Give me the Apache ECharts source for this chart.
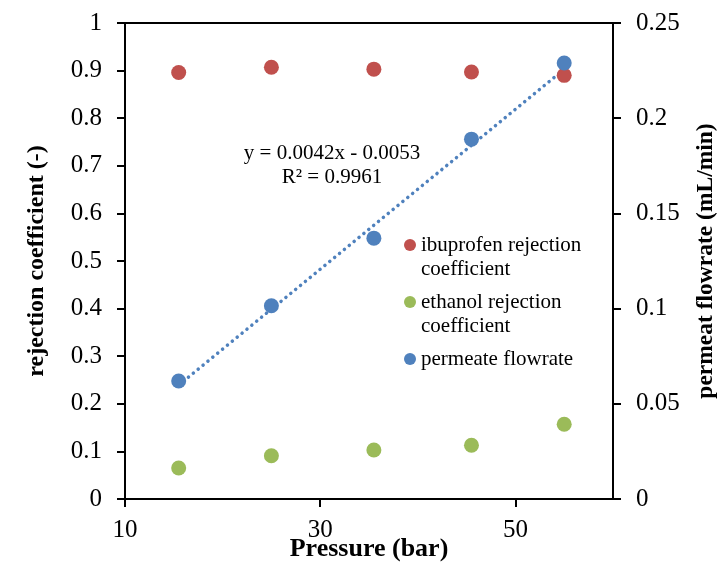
<!DOCTYPE html>
<html>
<head>
<meta charset="utf-8">
<script src="https://cdn.jsdelivr.net/npm/echarts@6/dist/echarts.min.js"></script>
<style>
html,body{margin:0;padding:0;background:#fff;}
#c{width:721px;height:565px;}
</style>
</head>
<body>
<div id="c"></div>
<script>
// ---- data ----
const pressure = [15.5, 25, 35.5, 45.5, 55];
const ibuprofenRejection = [0.896, 0.907, 0.903, 0.897, 0.890];
const ethanolRejection = [0.065, 0.091, 0.103, 0.113, 0.157];
const permeateFlowrate = [0.062, 0.1015, 0.137, 0.189, 0.229];
const trendSlope = 0.0042;
const trendIntercept = -0.0053;
const trendR2 = 0.9961;
const xTicks = [10, 30, 50];
const seriesNames = ['ibuprofen rejection coefficient', 'ethanol rejection coefficient', 'permeate flowrate'];
const legendLabels = ['ibuprofen rejection\ncoefficient', 'ethanol rejection\ncoefficient', 'permeate flowrate'];

const FONT = '"Liberation Serif", "Times New Roman", serif';
const colors = ['#C0504D', '#9BBB59', '#4F81BD'];

function pairs(xs, ys) { return xs.map((x, i) => [x, ys[i]]); }
const xMin = Math.min(...pressure), xMax = Math.max(...pressure);
const trendData = [[xMin, trendSlope * xMin + trendIntercept], [xMax, trendSlope * xMax + trendIntercept]];

// multi-line legend labels: a blank first line keeps the marker level with the first text line
function legendText(s) { return s.indexOf('\n') >= 0 ? ' \n' + s : s; }

const chart = echarts.init(document.getElementById('c'), null, {renderer: 'canvas'});
const legendTops = [209, 266, 347];
const legendLineH = 24;
const option = {
  animation: false,
  backgroundColor: '#fff',
  grid: {left: 125, right: 108, top: 23, bottom: 66, containLabel: false, outerBoundsMode: 'none',
    show: true, borderColor: '#000', borderWidth: 2, backgroundColor: 'transparent'},
  legend: seriesNames.map((n, i) => ({
    data: [n],
    left: 404, top: legendTops[i], padding: 0,
    icon: 'circle', itemWidth: 12, itemHeight: 12, itemGap: 0,
    selectedMode: false,
    formatter: () => legendText(legendLabels[i]),
    textStyle: {fontFamily: FONT, fontSize: 21, color: '#000', lineHeight: legendLineH}
  })),
  xAxis: {
    type: 'value', min: 10, max: 60, interval: 20,
    name: 'Pressure (bar)', nameLocation: 'middle', nameGap: 37, nameMoveOverlap: false,
    nameTextStyle: {fontFamily: FONT, fontSize: 26, fontWeight: 'bold', color: '#000'},
    axisLine: {show: true, onZero: false, lineStyle: {color: '#000', width: 2}},
    axisTick: {show: true, length: 8, lineStyle: {color: '#000', width: 2}, customValues: xTicks},
    axisLabel: {fontFamily: FONT, fontSize: 25, color: '#000', margin: 19, customValues: xTicks},
    splitLine: {show: false}
  },
  yAxis: [{
    type: 'value', min: 0, max: 1, interval: 0.1, position: 'left',
    name: 'rejection coefficient (-)', nameLocation: 'middle', nameGap: 76, nameRotate: 90, nameMoveOverlap: false,
    nameTextStyle: {fontFamily: FONT, fontSize: 24, fontWeight: 'bold', color: '#000'},
    axisLine: {show: true, lineStyle: {color: '#000', width: 2}},
    axisTick: {show: true, length: 8, lineStyle: {color: '#000', width: 2}},
    axisLabel: {fontFamily: FONT, fontSize: 25, color: '#000', margin: 23},
    splitLine: {show: false}
  }, {
    type: 'value', min: 0, max: 0.25, interval: 0.05, position: 'right',
    name: 'permeat flowrate (mL/min)', nameLocation: 'middle', nameGap: 81, nameRotate: 90, nameMoveOverlap: false,
    nameTextStyle: {fontFamily: FONT, fontSize: 23.5, fontWeight: 'bold', color: '#000'},
    axisLine: {show: true, lineStyle: {color: '#000', width: 2}},
    axisTick: {show: true, length: 8, lineStyle: {color: '#000', width: 2}},
    axisLabel: {fontFamily: FONT, fontSize: 25, color: '#000', margin: 23},
    splitLine: {show: false}
  }],
  series: [
    {name: seriesNames[0], type: 'scatter', yAxisIndex: 0, data: pairs(pressure, ibuprofenRejection), symbolSize: 15, itemStyle: {color: colors[0], opacity: 1}},
    {name: seriesNames[1], type: 'scatter', yAxisIndex: 0, data: pairs(pressure, ethanolRejection), symbolSize: 15, itemStyle: {color: colors[1], opacity: 1}},
    {name: 'trend', type: 'line', yAxisIndex: 1, data: trendData, showSymbol: false, symbol: 'none',
      lineStyle: {color: colors[2], width: 3.5, type: [0.1, 6.2], cap: 'round'}, z: 2},
    {name: seriesNames[2], type: 'scatter', yAxisIndex: 1, data: pairs(pressure, permeateFlowrate), symbolSize: 15, itemStyle: {color: colors[2], opacity: 1}, z: 3}
  ],
  graphic: [{
    type: 'text', x: 332, y: 141,
    style: {text: 'y = ' + trendSlope.toFixed(4) + 'x - ' + Math.abs(trendIntercept).toFixed(4) + '\nR² = ' + trendR2.toFixed(4),
      fontFamily: FONT, fontSize: 21, fill: '#000', align: 'center', verticalAlign: 'top', lineHeight: 24}
  }]
};
chart.setOption(option);
</script>
</body>
</html>
